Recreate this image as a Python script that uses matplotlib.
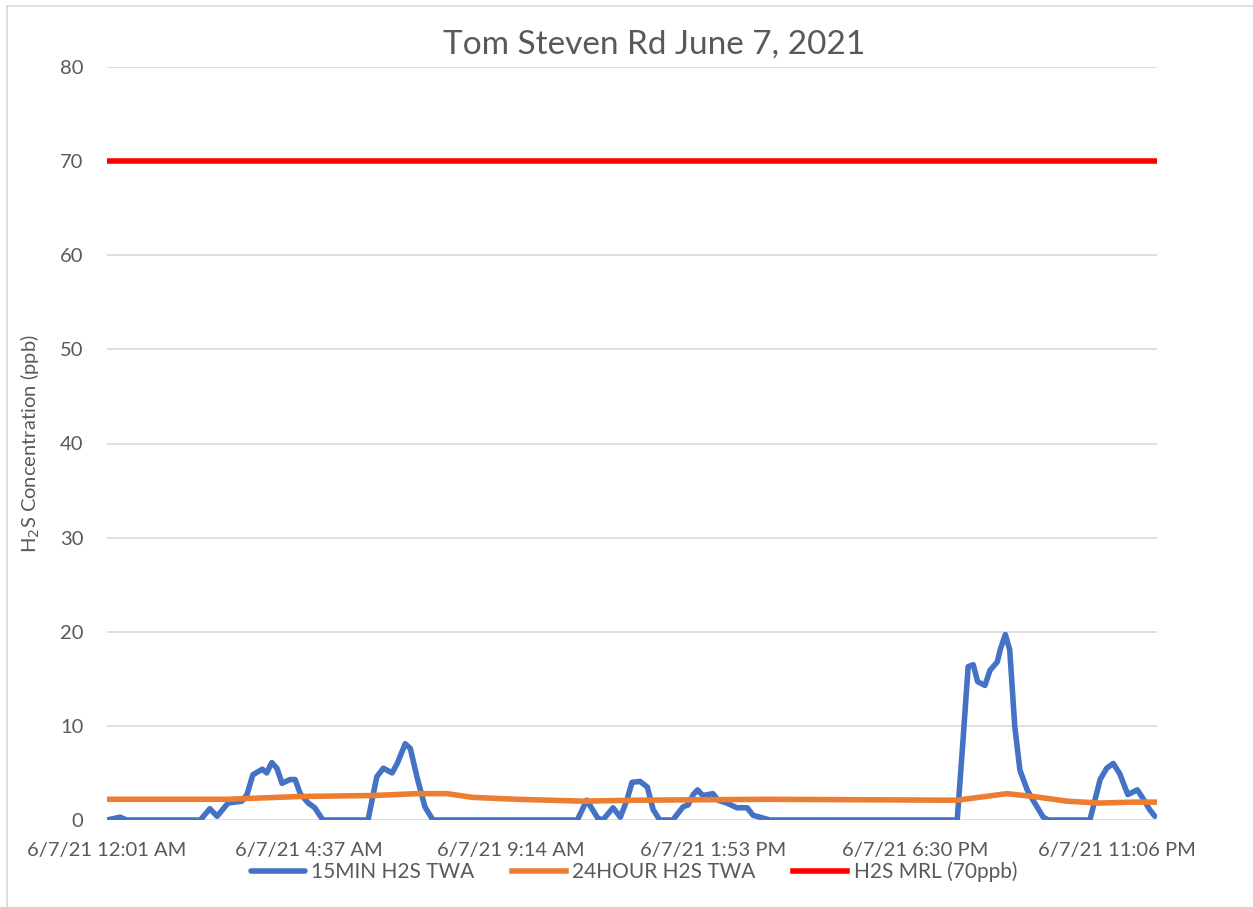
import matplotlib.pyplot as plt
from matplotlib.lines import Line2D

# minutes after 6/7/21 12:01 AM
blue_t = [0, 18, 27, 128, 141, 151, 166, 185, 192, 200, 213, 219, 226, 233, 240, 251, 258,
          265, 276, 285, 296, 358, 370, 379, 391, 398, 409, 416, 425, 436, 447, 645, 658,
          673, 680, 694, 704, 713, 720, 731, 741, 749, 758, 776, 790, 797, 804, 810, 817,
          831, 838, 850, 864, 878, 886, 900, 909, 1166, 1174, 1181, 1188, 1194, 1204, 1211,
          1221, 1225, 1232, 1238, 1245, 1252, 1262, 1270, 1284, 1291, 1348, 1362, 1371,
          1380, 1389, 1400, 1413, 1419, 1430, 1437]
blue_v = [0, 0.3, 0, 0, 1.2, 0.4, 1.8, 2.0, 2.7, 4.8, 5.4, 5.0, 6.1, 5.5, 3.9, 4.3, 4.3,
          2.8, 1.8, 1.3, 0, 0, 4.6, 5.5, 5.0, 6.0, 8.1, 7.6, 4.6, 1.4, 0, 0, 2.1,
          0.2, 0, 1.3, 0.3, 2.1, 4.0, 4.1, 3.5, 1.1, 0, 0, 1.4, 1.6, 2.7, 3.2, 2.6,
          2.8, 2.1, 1.8, 1.3, 1.3, 0.5, 0.2, 0, 0, 8.5, 16.3, 16.5, 14.7, 14.3, 15.9,
          16.8, 18.1, 19.7, 18.1, 9.9, 5.3, 3.2, 2.1, 0.3, 0, 0, 4.3, 5.5,
          6.0, 4.9, 2.7, 3.2, 2.5, 1.1, 0.4]

orange_t = [0, 165, 265, 365, 425, 466, 502, 562, 653, 722, 905, 1166, 1234, 1270, 1317,
            1362, 1407, 1440]
orange_v = [2.2, 2.2, 2.5, 2.6, 2.8, 2.8, 2.4, 2.2, 2.0, 2.1, 2.2, 2.1, 2.8, 2.5, 2.0,
            1.8, 1.9, 1.9]

mrl_t = [0, 1440]
mrl_v = [70, 70]

tick_pos = [0, 277, 554, 831, 1108, 1385]
tick_labels = ["6/7/21 12:01 AM", "6/7/21 4:37 AM", "6/7/21 9:14 AM",
               "6/7/21 1:53 PM", "6/7/21 6:30 PM", "6/7/21 11:06 PM"]

plt.rcParams["font.family"] = ["Lato", "DejaVu Sans"]
gray = "#595959"

W, H = 1253, 907
fig = plt.figure(figsize=(W / 100, H / 100), dpi=100)
ax = fig.add_axes([107 / W, 1 - 820 / H, 1050 / W, (820 - 67) / H])

ax.plot(blue_t, blue_v, color="#4472C4", lw=4, solid_joinstyle="round",
        solid_capstyle="round", label="15MIN H2S TWA", zorder=3)
ax.plot(orange_t, orange_v, color="#ED7D31", lw=4, solid_joinstyle="round",
        label="24HOUR H2S TWA", zorder=4)
ax.plot(mrl_t, mrl_v, color="#FF0000", lw=4, label="H2S MRL (70ppb)", zorder=4)

ax.set_xlim(0, 1440)
ax.set_ylim(0, 80)
ax.set_yticks(range(0, 81, 10))
ax.set_xticks(tick_pos)
ax.set_xticklabels(tick_labels)
ax.grid(axis="y", color="#d9d9d9", lw=1.2)
ax.set_axisbelow(True)
for s in ax.spines.values():
    s.set_visible(False)
ax.tick_params(length=0, labelsize=14.5, colors=gray)
ax.tick_params(axis="x", pad=16)
ax.tick_params(axis="y", pad=17)

ax.set_ylabel("H$_2$S Concentration (ppb)", fontsize=14.5, color=gray)
ax.yaxis.set_label_coords(-0.062, 0.5)
fig.text(654 / W, 1 - 45 / H, "Tom Steven Rd June 7, 2021", fontsize=24, color=gray,
         ha="center", va="center")

fig.legend(loc="center", bbox_to_anchor=(634 / W, 1 - 872 / H), ncol=3, frameon=False,
           fontsize=15, labelcolor=gray, handlelength=2.6, columnspacing=1.8,
           handletextpad=0.3)

# chart frame edges (only top and left visible in the crop)
top = 1 - 5.5 / H
left = 7 / W
fig.lines.append(Line2D([left, 1], [top, top], color="#d9d9d9", lw=1.2,
                        transform=fig.transFigure))
fig.lines.append(Line2D([left, left], [0, top], color="#d9d9d9", lw=1.2,
                        transform=fig.transFigure))

fig.savefig("out.png", dpi=100)
